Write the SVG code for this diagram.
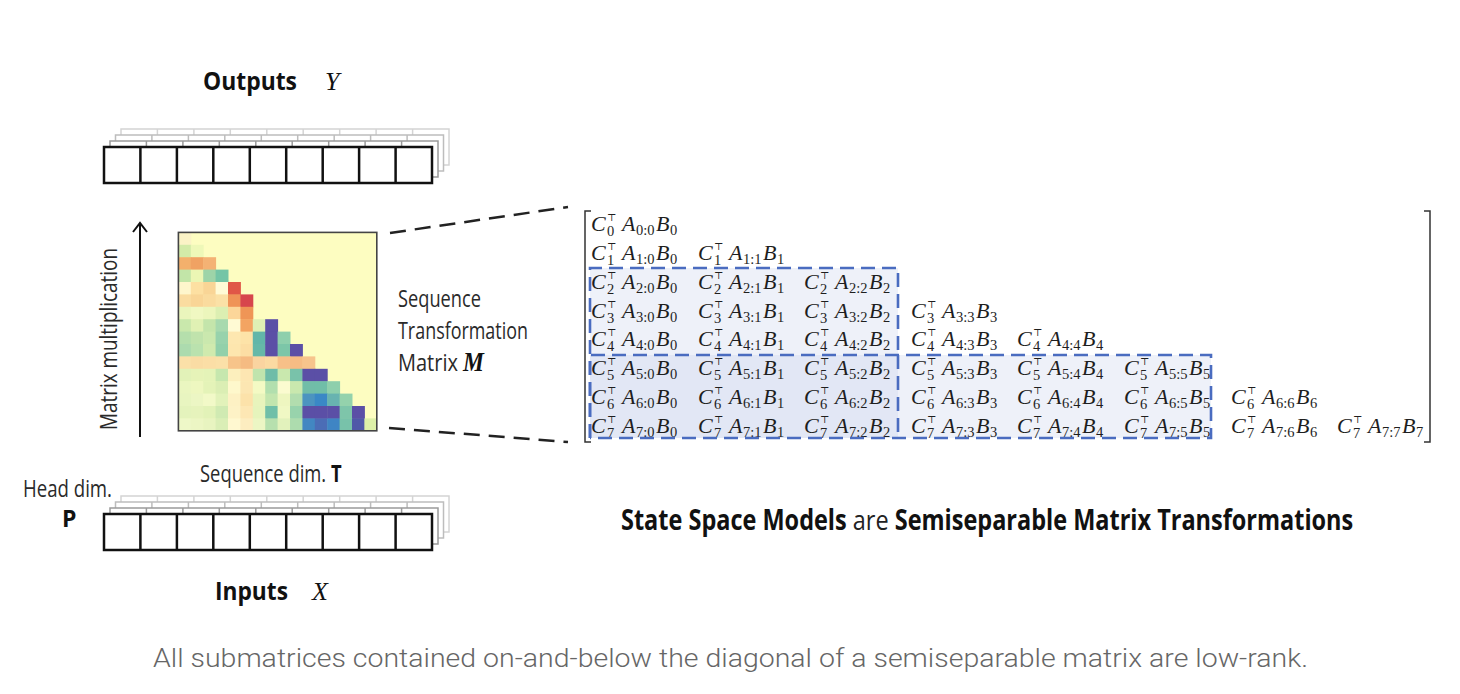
<svg xmlns="http://www.w3.org/2000/svg" xmlns:xlink="http://www.w3.org/1999/xlink" width="1460" height="694" viewBox="0 0 1460 694">
<style>
.lbl { font-family: "Open Sans", "Liberation Sans", sans-serif; font-size: 23px; fill: #2a2a2a; }
.hd { font-family: "Open Sans", "Liberation Sans", sans-serif; font-weight: 700; fill: #111; }
.bt { font-weight: 700; fill: #111; }
.var { font-family: "Liberation Serif", "DejaVu Serif", serif; font-style: italic; fill: #111; }
.m text { font-family: "Liberation Serif", "DejaVu Serif", serif; font-size: 22px; fill: #1e1e1e; }
.m .i { font-style: italic; }
.m .s { font-size: 14.5px; }
.m .t { font-family: "DejaVu Serif", "DejaVu Sans", serif; font-size: 10px; }
.cap { font-family: Roboto, "Liberation Sans", sans-serif; font-weight: 300; font-size: 25.5px; fill: #666; }
.dash { fill: none; stroke: #222; stroke-width: 2.5; stroke-dasharray: 16 9; }
.fill { fill: #c8d2ea; fill-opacity: 0.3; stroke: none; }
.bline { fill: none; stroke: #4a6cc0; stroke-width: 2.6; stroke-dasharray: 14 7; }
.br { fill: none; stroke: #333; stroke-width: 1.5; }
</style>
<defs>
<g id="row">
<rect x="0" y="0" width="328" height="36" fill="#fff"/>
<path d="M36.4 0V36M72.9 0V36M109.3 0V36M145.8 0V36M182.2 0V36M218.7 0V36M255.1 0V36M291.6 0V36" fill="none"/>
</g>
</defs>
<rect width="1460" height="694" fill="#fff"/>

<g id="outputs">
<use xlink:href="#row" transform="translate(121,129)" stroke="#d4d4d4" stroke-width="1.5"/>
<use xlink:href="#row" transform="translate(115.5,135)" stroke="#bdbdbd" stroke-width="1.5"/>
<use xlink:href="#row" transform="translate(110,141)" stroke="#9a9a9a" stroke-width="1.5"/>
<use xlink:href="#row" transform="translate(104,147)" stroke="#111" stroke-width="2.5"/>
<text class="hd" x="203" y="90" font-size="25" textLength="94" lengthAdjust="spacingAndGlyphs">Outputs</text>
<text class="var" x="325" y="90" font-size="26">Y</text>
</g>

<g id="inputs">
<use xlink:href="#row" transform="translate(121,496)" stroke="#d4d4d4" stroke-width="1.5"/>
<use xlink:href="#row" transform="translate(115.5,502)" stroke="#bdbdbd" stroke-width="1.5"/>
<use xlink:href="#row" transform="translate(110,508)" stroke="#9a9a9a" stroke-width="1.5"/>
<use xlink:href="#row" transform="translate(104,514)" stroke="#111" stroke-width="2.5"/>
<text class="hd" x="215" y="600" font-size="25" textLength="73" lengthAdjust="spacingAndGlyphs">Inputs</text>
<text class="var" x="312" y="600" font-size="26">X</text>
<text class="lbl" x="23" y="497" textLength="89" lengthAdjust="spacingAndGlyphs">Head dim.</text>
<text class="hd" x="62" y="527" font-size="23">P</text>
<text class="lbl" transform="translate(200,482) scale(0.8,1)">Sequence dim. <tspan class="bt">T</tspan></text>
</g>

<g id="heatmap">
<rect x="178.4" y="232.4" width="198.4" height="198.4" fill="#fdfdc1"/>
<g transform="translate(178.4,232.4) scale(12.4)">
<rect x="0" y="0" width="1.04" height="1.04" fill="#fbf3c6"/>
<rect x="0" y="1" width="1.04" height="1.04" fill="#d3eba8"/><rect x="1" y="1" width="1.04" height="1.04" fill="#eef8b8"/>
<rect x="0" y="2" width="1.04" height="1.04" fill="#f3b06c"/><rect x="1" y="2" width="1.04" height="1.04" fill="#f0a263"/><rect x="2" y="2" width="1.04" height="1.04" fill="#f4b274"/>
<rect x="0" y="3" width="1.04" height="1.04" fill="#c2e5a8"/><rect x="1" y="3" width="1.04" height="1.04" fill="#ebf6b4"/><rect x="2" y="3" width="1.04" height="1.04" fill="#9dd4a8"/><rect x="3" y="3" width="1.04" height="1.04" fill="#74c5a6"/>
<rect x="0" y="4" width="1.04" height="1.04" fill="#fef6cc"/><rect x="1" y="4" width="1.04" height="1.04" fill="#fde0a2"/><rect x="2" y="4" width="1.04" height="1.04" fill="#f9d596"/><rect x="3" y="4" width="1.04" height="1.04" fill="#fffbd6"/><rect x="4" y="4" width="1.04" height="1.04" fill="#e05747"/>
<rect x="0" y="5" width="1.04" height="1.04" fill="#fadca0"/><rect x="1" y="5" width="1.04" height="1.04" fill="#f9d596"/><rect x="2" y="5" width="1.04" height="1.04" fill="#fadb9e"/><rect x="3" y="5" width="1.04" height="1.04" fill="#fbe1a6"/><rect x="4" y="5" width="1.04" height="1.04" fill="#ef9357"/><rect x="5" y="5" width="1.04" height="1.04" fill="#d7464c"/>
<rect x="0" y="6" width="1.04" height="1.04" fill="#eaf5bc"/><rect x="1" y="6" width="1.04" height="1.04" fill="#f0f8c2"/><rect x="2" y="6" width="1.04" height="1.04" fill="#ecf6bc"/><rect x="3" y="6" width="1.04" height="1.04" fill="#dcefb2"/><rect x="4" y="6" width="1.04" height="1.04" fill="#fcd699"/><rect x="5" y="6" width="1.04" height="1.04" fill="#ef9556"/>
<rect x="0" y="7" width="1.04" height="1.04" fill="#c9e8ac"/><rect x="1" y="7" width="1.04" height="1.04" fill="#e0f1b4"/><rect x="2" y="7" width="1.04" height="1.04" fill="#c4e5ab"/><rect x="3" y="7" width="1.04" height="1.04" fill="#a7d9ae"/><rect x="4" y="7" width="1.04" height="1.04" fill="#fffad4"/><rect x="5" y="7" width="1.04" height="1.04" fill="#f3a462"/><rect x="6" y="7" width="1.04" height="1.04" fill="#dff0b4"/><rect x="7" y="7" width="1.04" height="1.04" fill="#5b4fa6"/>
<rect x="0" y="8" width="1.04" height="1.04" fill="#b5dfac"/><rect x="1" y="8" width="1.04" height="1.04" fill="#c0e3ac"/><rect x="2" y="8" width="1.04" height="1.04" fill="#cae8ae"/><rect x="3" y="8" width="1.04" height="1.04" fill="#97d2ac"/><rect x="4" y="8" width="1.04" height="1.04" fill="#fde7b0"/><rect x="5" y="8" width="1.04" height="1.04" fill="#fde3a8"/><rect x="6" y="8" width="1.04" height="1.04" fill="#62b6a9"/><rect x="7" y="8" width="1.04" height="1.04" fill="#5b4fa6"/><rect x="8" y="8" width="1.04" height="1.04" fill="#8ecfac"/>
<rect x="0" y="9" width="1.04" height="1.04" fill="#acdbae"/><rect x="1" y="9" width="1.04" height="1.04" fill="#bae2ae"/><rect x="2" y="9" width="1.04" height="1.04" fill="#d0eaae"/><rect x="3" y="9" width="1.04" height="1.04" fill="#92d0aa"/><rect x="4" y="9" width="1.04" height="1.04" fill="#fde6ae"/><rect x="5" y="9" width="1.04" height="1.04" fill="#fcdea4"/><rect x="6" y="9" width="1.04" height="1.04" fill="#66b8a8"/><rect x="7" y="9" width="1.04" height="1.04" fill="#5b4fa6"/><rect x="8" y="9" width="1.04" height="1.04" fill="#7cc6a8"/><rect x="9" y="9" width="1.04" height="1.04" fill="#5b4fa6"/>
<rect x="0" y="10" width="1.04" height="1.04" fill="#fbe0a8"/><rect x="1" y="10" width="1.04" height="1.04" fill="#fadca4"/><rect x="2" y="10" width="1.04" height="1.04" fill="#fbdea6"/><rect x="3" y="10" width="1.04" height="1.04" fill="#fbe0a8"/><rect x="4" y="10" width="1.04" height="1.04" fill="#f7c48a"/><rect x="5" y="10" width="1.04" height="1.04" fill="#f5bb82"/><rect x="6" y="10" width="1.04" height="1.04" fill="#fad4a0"/><rect x="7" y="10" width="1.04" height="1.04" fill="#fbdaa2"/><rect x="8" y="10" width="1.04" height="1.04" fill="#f7c088"/><rect x="9" y="10" width="1.04" height="1.04" fill="#f6bc84"/><rect x="10" y="10" width="1.04" height="1.04" fill="#f7c48c"/>
<rect x="0" y="11" width="1.04" height="1.04" fill="#e2f2b8"/><rect x="1" y="11" width="1.04" height="1.04" fill="#e6f3b8"/><rect x="2" y="11" width="1.04" height="1.04" fill="#e4f3b8"/><rect x="3" y="11" width="1.04" height="1.04" fill="#c6e7ae"/><rect x="4" y="11" width="1.04" height="1.04" fill="#fcefbd"/><rect x="5" y="11" width="1.04" height="1.04" fill="#fde6b2"/><rect x="6" y="11" width="1.04" height="1.04" fill="#c0e4ad"/><rect x="7" y="11" width="1.04" height="1.04" fill="#6fbca8"/><rect x="8" y="11" width="1.04" height="1.04" fill="#c9e8ae"/><rect x="9" y="11" width="1.04" height="1.04" fill="#79c2aa"/><rect x="10" y="11" width="1.04" height="1.04" fill="#5b4fa6"/><rect x="11" y="11" width="1.04" height="1.04" fill="#5b4fa6"/>
<rect x="0" y="12" width="1.04" height="1.04" fill="#eaf6c0"/><rect x="1" y="12" width="1.04" height="1.04" fill="#eef7c0"/><rect x="2" y="12" width="1.04" height="1.04" fill="#e4f3b8"/><rect x="3" y="12" width="1.04" height="1.04" fill="#dbeeb4"/><rect x="4" y="12" width="1.04" height="1.04" fill="#fef8cc"/><rect x="5" y="12" width="1.04" height="1.04" fill="#fce6b2"/><rect x="6" y="12" width="1.04" height="1.04" fill="#f4fac4"/><rect x="7" y="12" width="1.04" height="1.04" fill="#b2dfae"/><rect x="8" y="12" width="1.04" height="1.04" fill="#fbfbd0"/><rect x="9" y="12" width="1.04" height="1.04" fill="#c9e8ae"/><rect x="10" y="12" width="1.04" height="1.04" fill="#71bda8"/><rect x="11" y="12" width="1.04" height="1.04" fill="#70bea8"/><rect x="12" y="12" width="1.04" height="1.04" fill="#8ecfac"/>
<rect x="0" y="13" width="1.04" height="1.04" fill="#e8f5c0"/><rect x="1" y="13" width="1.04" height="1.04" fill="#ecf6c4"/><rect x="2" y="13" width="1.04" height="1.04" fill="#f2f9c8"/><rect x="3" y="13" width="1.04" height="1.04" fill="#e2f2ba"/><rect x="4" y="13" width="1.04" height="1.04" fill="#fdf1c4"/><rect x="5" y="13" width="1.04" height="1.04" fill="#fce2aa"/><rect x="6" y="13" width="1.04" height="1.04" fill="#e8f4bc"/><rect x="7" y="13" width="1.04" height="1.04" fill="#c2e5ae"/><rect x="8" y="13" width="1.04" height="1.04" fill="#eef6c0"/><rect x="9" y="13" width="1.04" height="1.04" fill="#b2ddae"/><rect x="10" y="13" width="1.04" height="1.04" fill="#4c94c0"/><rect x="11" y="13" width="1.04" height="1.04" fill="#3a88c6"/><rect x="12" y="13" width="1.04" height="1.04" fill="#68b3b0"/><rect x="13" y="13" width="1.04" height="1.04" fill="#94d2ac"/>
<rect x="0" y="14" width="1.04" height="1.04" fill="#e4f3bc"/><rect x="1" y="14" width="1.04" height="1.04" fill="#e6f3bc"/><rect x="2" y="14" width="1.04" height="1.04" fill="#e2f2b8"/><rect x="3" y="14" width="1.04" height="1.04" fill="#d0eab2"/><rect x="4" y="14" width="1.04" height="1.04" fill="#fdf2c6"/><rect x="5" y="14" width="1.04" height="1.04" fill="#fde7b4"/><rect x="6" y="14" width="1.04" height="1.04" fill="#e6f4bc"/><rect x="7" y="14" width="1.04" height="1.04" fill="#70bfa8"/><rect x="8" y="14" width="1.04" height="1.04" fill="#f0f8c4"/><rect x="9" y="14" width="1.04" height="1.04" fill="#98d3ac"/><rect x="10" y="14" width="1.04" height="1.04" fill="#5b4fa6"/><rect x="11" y="14" width="1.04" height="1.04" fill="#5b4fa6"/><rect x="12" y="14" width="1.04" height="1.04" fill="#5b4fa6"/><rect x="13" y="14" width="1.04" height="1.04" fill="#7ec5aa"/><rect x="14" y="14" width="1.04" height="1.04" fill="#5b4fa6"/>
<rect x="0" y="15" width="1.04" height="1" fill="#eef8c8"/><rect x="1" y="15" width="1.04" height="1" fill="#ecf6c4"/><rect x="2" y="15" width="1.04" height="1" fill="#e8f4c0"/><rect x="3" y="15" width="1.04" height="1" fill="#daeeb6"/><rect x="4" y="15" width="1.04" height="1" fill="#fff8d0"/><rect x="5" y="15" width="1.04" height="1" fill="#fdedc0"/><rect x="6" y="15" width="1.04" height="1" fill="#ecf6c4"/><rect x="7" y="15" width="1.04" height="1" fill="#b7e0ae"/><rect x="8" y="15" width="1.04" height="1" fill="#e2f2bc"/><rect x="9" y="15" width="1.04" height="1" fill="#addcae"/><rect x="10" y="15" width="1.04" height="1" fill="#4287c2"/><rect x="11" y="15" width="1.04" height="1" fill="#4b6db6"/><rect x="12" y="15" width="1.04" height="1" fill="#3f85c4"/><rect x="13" y="15" width="1.04" height="1" fill="#78c2aa"/><rect x="14" y="15" width="1.04" height="1" fill="#5058a8"/><rect x="15" y="15" width="1" height="1" fill="#ddf0a8"/>
</g>
<rect x="178.4" y="232.4" width="198.4" height="198.4" fill="none" stroke="#444" stroke-width="1.6"/>
</g>

<g id="labels">
<text class="lbl" transform="translate(117,339) rotate(-90)" text-anchor="middle" textLength="182" lengthAdjust="spacingAndGlyphs">Matrix multiplication</text>
<text class="lbl" x="398" y="307" textLength="83" lengthAdjust="spacingAndGlyphs">Sequence</text>
<text class="lbl" x="398" y="339" textLength="130" lengthAdjust="spacingAndGlyphs">Transformation</text>
<text class="lbl" transform="translate(398,371) scale(0.87,1)">Matrix <tspan class="var" font-size="27" font-weight="700">M</tspan></text>
</g>

<g id="connectors">
<path class="dash" d="M390 233L568 207"/>
<path class="dash" d="M389 428L568 442"/>
<path d="M140 437V224" fill="none" stroke="#111" stroke-width="2"/>
<path d="M133 232L140 223L147 232" fill="none" stroke="#111" stroke-width="2"/>
</g>

<g id="matrix" class="m">
<rect class="fill" x="590" y="268" width="308" height="170"/>
<rect class="fill" x="590" y="355" width="621" height="83"/>
<path class="br" d="M591 211H585V442H591"/>
<path class="br" d="M1424 211H1430V442H1424"/>
<text transform="translate(591,231)"><tspan class="i" x="0" y="0">C</tspan><tspan class="t" x="16" y="-10.5">⊤</tspan><tspan class="s" x="16" y="5">0</tspan><tspan class="i" x="31" y="0">A</tspan><tspan class="s" x="45" y="4">0:0</tspan><tspan class="i" x="65" y="0">B</tspan><tspan class="s" x="79" y="4">0</tspan></text>
<text transform="translate(591,260)"><tspan class="i" x="0" y="0">C</tspan><tspan class="t" x="16" y="-10.5">⊤</tspan><tspan class="s" x="16" y="5">1</tspan><tspan class="i" x="31" y="0">A</tspan><tspan class="s" x="45" y="4">1:0</tspan><tspan class="i" x="65" y="0">B</tspan><tspan class="s" x="79" y="4">0</tspan></text>
<text transform="translate(698,260)"><tspan class="i" x="0" y="0">C</tspan><tspan class="t" x="16" y="-10.5">⊤</tspan><tspan class="s" x="16" y="5">1</tspan><tspan class="i" x="31" y="0">A</tspan><tspan class="s" x="45" y="4">1:1</tspan><tspan class="i" x="65" y="0">B</tspan><tspan class="s" x="79" y="4">1</tspan></text>
<text transform="translate(591,289)"><tspan class="i" x="0" y="0">C</tspan><tspan class="t" x="16" y="-10.5">⊤</tspan><tspan class="s" x="16" y="5">2</tspan><tspan class="i" x="31" y="0">A</tspan><tspan class="s" x="45" y="4">2:0</tspan><tspan class="i" x="65" y="0">B</tspan><tspan class="s" x="79" y="4">0</tspan></text>
<text transform="translate(698,289)"><tspan class="i" x="0" y="0">C</tspan><tspan class="t" x="16" y="-10.5">⊤</tspan><tspan class="s" x="16" y="5">2</tspan><tspan class="i" x="31" y="0">A</tspan><tspan class="s" x="45" y="4">2:1</tspan><tspan class="i" x="65" y="0">B</tspan><tspan class="s" x="79" y="4">1</tspan></text>
<text transform="translate(804,289)"><tspan class="i" x="0" y="0">C</tspan><tspan class="t" x="16" y="-10.5">⊤</tspan><tspan class="s" x="16" y="5">2</tspan><tspan class="i" x="31" y="0">A</tspan><tspan class="s" x="45" y="4">2:2</tspan><tspan class="i" x="65" y="0">B</tspan><tspan class="s" x="79" y="4">2</tspan></text>
<text transform="translate(591,318)"><tspan class="i" x="0" y="0">C</tspan><tspan class="t" x="16" y="-10.5">⊤</tspan><tspan class="s" x="16" y="5">3</tspan><tspan class="i" x="31" y="0">A</tspan><tspan class="s" x="45" y="4">3:0</tspan><tspan class="i" x="65" y="0">B</tspan><tspan class="s" x="79" y="4">0</tspan></text>
<text transform="translate(698,318)"><tspan class="i" x="0" y="0">C</tspan><tspan class="t" x="16" y="-10.5">⊤</tspan><tspan class="s" x="16" y="5">3</tspan><tspan class="i" x="31" y="0">A</tspan><tspan class="s" x="45" y="4">3:1</tspan><tspan class="i" x="65" y="0">B</tspan><tspan class="s" x="79" y="4">1</tspan></text>
<text transform="translate(804,318)"><tspan class="i" x="0" y="0">C</tspan><tspan class="t" x="16" y="-10.5">⊤</tspan><tspan class="s" x="16" y="5">3</tspan><tspan class="i" x="31" y="0">A</tspan><tspan class="s" x="45" y="4">3:2</tspan><tspan class="i" x="65" y="0">B</tspan><tspan class="s" x="79" y="4">2</tspan></text>
<text transform="translate(911,318)"><tspan class="i" x="0" y="0">C</tspan><tspan class="t" x="16" y="-10.5">⊤</tspan><tspan class="s" x="16" y="5">3</tspan><tspan class="i" x="31" y="0">A</tspan><tspan class="s" x="45" y="4">3:3</tspan><tspan class="i" x="65" y="0">B</tspan><tspan class="s" x="79" y="4">3</tspan></text>
<text transform="translate(591,346)"><tspan class="i" x="0" y="0">C</tspan><tspan class="t" x="16" y="-10.5">⊤</tspan><tspan class="s" x="16" y="5">4</tspan><tspan class="i" x="31" y="0">A</tspan><tspan class="s" x="45" y="4">4:0</tspan><tspan class="i" x="65" y="0">B</tspan><tspan class="s" x="79" y="4">0</tspan></text>
<text transform="translate(698,346)"><tspan class="i" x="0" y="0">C</tspan><tspan class="t" x="16" y="-10.5">⊤</tspan><tspan class="s" x="16" y="5">4</tspan><tspan class="i" x="31" y="0">A</tspan><tspan class="s" x="45" y="4">4:1</tspan><tspan class="i" x="65" y="0">B</tspan><tspan class="s" x="79" y="4">1</tspan></text>
<text transform="translate(804,346)"><tspan class="i" x="0" y="0">C</tspan><tspan class="t" x="16" y="-10.5">⊤</tspan><tspan class="s" x="16" y="5">4</tspan><tspan class="i" x="31" y="0">A</tspan><tspan class="s" x="45" y="4">4:2</tspan><tspan class="i" x="65" y="0">B</tspan><tspan class="s" x="79" y="4">2</tspan></text>
<text transform="translate(911,346)"><tspan class="i" x="0" y="0">C</tspan><tspan class="t" x="16" y="-10.5">⊤</tspan><tspan class="s" x="16" y="5">4</tspan><tspan class="i" x="31" y="0">A</tspan><tspan class="s" x="45" y="4">4:3</tspan><tspan class="i" x="65" y="0">B</tspan><tspan class="s" x="79" y="4">3</tspan></text>
<text transform="translate(1017,346)"><tspan class="i" x="0" y="0">C</tspan><tspan class="t" x="16" y="-10.5">⊤</tspan><tspan class="s" x="16" y="5">4</tspan><tspan class="i" x="31" y="0">A</tspan><tspan class="s" x="45" y="4">4:4</tspan><tspan class="i" x="65" y="0">B</tspan><tspan class="s" x="79" y="4">4</tspan></text>
<text transform="translate(591,375)"><tspan class="i" x="0" y="0">C</tspan><tspan class="t" x="16" y="-10.5">⊤</tspan><tspan class="s" x="16" y="5">5</tspan><tspan class="i" x="31" y="0">A</tspan><tspan class="s" x="45" y="4">5:0</tspan><tspan class="i" x="65" y="0">B</tspan><tspan class="s" x="79" y="4">0</tspan></text>
<text transform="translate(698,375)"><tspan class="i" x="0" y="0">C</tspan><tspan class="t" x="16" y="-10.5">⊤</tspan><tspan class="s" x="16" y="5">5</tspan><tspan class="i" x="31" y="0">A</tspan><tspan class="s" x="45" y="4">5:1</tspan><tspan class="i" x="65" y="0">B</tspan><tspan class="s" x="79" y="4">1</tspan></text>
<text transform="translate(804,375)"><tspan class="i" x="0" y="0">C</tspan><tspan class="t" x="16" y="-10.5">⊤</tspan><tspan class="s" x="16" y="5">5</tspan><tspan class="i" x="31" y="0">A</tspan><tspan class="s" x="45" y="4">5:2</tspan><tspan class="i" x="65" y="0">B</tspan><tspan class="s" x="79" y="4">2</tspan></text>
<text transform="translate(911,375)"><tspan class="i" x="0" y="0">C</tspan><tspan class="t" x="16" y="-10.5">⊤</tspan><tspan class="s" x="16" y="5">5</tspan><tspan class="i" x="31" y="0">A</tspan><tspan class="s" x="45" y="4">5:3</tspan><tspan class="i" x="65" y="0">B</tspan><tspan class="s" x="79" y="4">3</tspan></text>
<text transform="translate(1017,375)"><tspan class="i" x="0" y="0">C</tspan><tspan class="t" x="16" y="-10.5">⊤</tspan><tspan class="s" x="16" y="5">5</tspan><tspan class="i" x="31" y="0">A</tspan><tspan class="s" x="45" y="4">5:4</tspan><tspan class="i" x="65" y="0">B</tspan><tspan class="s" x="79" y="4">4</tspan></text>
<text transform="translate(1124,375)"><tspan class="i" x="0" y="0">C</tspan><tspan class="t" x="16" y="-10.5">⊤</tspan><tspan class="s" x="16" y="5">5</tspan><tspan class="i" x="31" y="0">A</tspan><tspan class="s" x="45" y="4">5:5</tspan><tspan class="i" x="65" y="0">B</tspan><tspan class="s" x="79" y="4">5</tspan></text>
<text transform="translate(591,404)"><tspan class="i" x="0" y="0">C</tspan><tspan class="t" x="16" y="-10.5">⊤</tspan><tspan class="s" x="16" y="5">6</tspan><tspan class="i" x="31" y="0">A</tspan><tspan class="s" x="45" y="4">6:0</tspan><tspan class="i" x="65" y="0">B</tspan><tspan class="s" x="79" y="4">0</tspan></text>
<text transform="translate(698,404)"><tspan class="i" x="0" y="0">C</tspan><tspan class="t" x="16" y="-10.5">⊤</tspan><tspan class="s" x="16" y="5">6</tspan><tspan class="i" x="31" y="0">A</tspan><tspan class="s" x="45" y="4">6:1</tspan><tspan class="i" x="65" y="0">B</tspan><tspan class="s" x="79" y="4">1</tspan></text>
<text transform="translate(804,404)"><tspan class="i" x="0" y="0">C</tspan><tspan class="t" x="16" y="-10.5">⊤</tspan><tspan class="s" x="16" y="5">6</tspan><tspan class="i" x="31" y="0">A</tspan><tspan class="s" x="45" y="4">6:2</tspan><tspan class="i" x="65" y="0">B</tspan><tspan class="s" x="79" y="4">2</tspan></text>
<text transform="translate(911,404)"><tspan class="i" x="0" y="0">C</tspan><tspan class="t" x="16" y="-10.5">⊤</tspan><tspan class="s" x="16" y="5">6</tspan><tspan class="i" x="31" y="0">A</tspan><tspan class="s" x="45" y="4">6:3</tspan><tspan class="i" x="65" y="0">B</tspan><tspan class="s" x="79" y="4">3</tspan></text>
<text transform="translate(1017,404)"><tspan class="i" x="0" y="0">C</tspan><tspan class="t" x="16" y="-10.5">⊤</tspan><tspan class="s" x="16" y="5">6</tspan><tspan class="i" x="31" y="0">A</tspan><tspan class="s" x="45" y="4">6:4</tspan><tspan class="i" x="65" y="0">B</tspan><tspan class="s" x="79" y="4">4</tspan></text>
<text transform="translate(1124,404)"><tspan class="i" x="0" y="0">C</tspan><tspan class="t" x="16" y="-10.5">⊤</tspan><tspan class="s" x="16" y="5">6</tspan><tspan class="i" x="31" y="0">A</tspan><tspan class="s" x="45" y="4">6:5</tspan><tspan class="i" x="65" y="0">B</tspan><tspan class="s" x="79" y="4">5</tspan></text>
<text transform="translate(1231,404)"><tspan class="i" x="0" y="0">C</tspan><tspan class="t" x="16" y="-10.5">⊤</tspan><tspan class="s" x="16" y="5">6</tspan><tspan class="i" x="31" y="0">A</tspan><tspan class="s" x="45" y="4">6:6</tspan><tspan class="i" x="65" y="0">B</tspan><tspan class="s" x="79" y="4">6</tspan></text>
<text transform="translate(591,433)"><tspan class="i" x="0" y="0">C</tspan><tspan class="t" x="16" y="-10.5">⊤</tspan><tspan class="s" x="16" y="5">7</tspan><tspan class="i" x="31" y="0">A</tspan><tspan class="s" x="45" y="4">7:0</tspan><tspan class="i" x="65" y="0">B</tspan><tspan class="s" x="79" y="4">0</tspan></text>
<text transform="translate(698,433)"><tspan class="i" x="0" y="0">C</tspan><tspan class="t" x="16" y="-10.5">⊤</tspan><tspan class="s" x="16" y="5">7</tspan><tspan class="i" x="31" y="0">A</tspan><tspan class="s" x="45" y="4">7:1</tspan><tspan class="i" x="65" y="0">B</tspan><tspan class="s" x="79" y="4">1</tspan></text>
<text transform="translate(804,433)"><tspan class="i" x="0" y="0">C</tspan><tspan class="t" x="16" y="-10.5">⊤</tspan><tspan class="s" x="16" y="5">7</tspan><tspan class="i" x="31" y="0">A</tspan><tspan class="s" x="45" y="4">7:2</tspan><tspan class="i" x="65" y="0">B</tspan><tspan class="s" x="79" y="4">2</tspan></text>
<text transform="translate(911,433)"><tspan class="i" x="0" y="0">C</tspan><tspan class="t" x="16" y="-10.5">⊤</tspan><tspan class="s" x="16" y="5">7</tspan><tspan class="i" x="31" y="0">A</tspan><tspan class="s" x="45" y="4">7:3</tspan><tspan class="i" x="65" y="0">B</tspan><tspan class="s" x="79" y="4">3</tspan></text>
<text transform="translate(1017,433)"><tspan class="i" x="0" y="0">C</tspan><tspan class="t" x="16" y="-10.5">⊤</tspan><tspan class="s" x="16" y="5">7</tspan><tspan class="i" x="31" y="0">A</tspan><tspan class="s" x="45" y="4">7:4</tspan><tspan class="i" x="65" y="0">B</tspan><tspan class="s" x="79" y="4">4</tspan></text>
<text transform="translate(1124,433)"><tspan class="i" x="0" y="0">C</tspan><tspan class="t" x="16" y="-10.5">⊤</tspan><tspan class="s" x="16" y="5">7</tspan><tspan class="i" x="31" y="0">A</tspan><tspan class="s" x="45" y="4">7:5</tspan><tspan class="i" x="65" y="0">B</tspan><tspan class="s" x="79" y="4">5</tspan></text>
<text transform="translate(1231,433)"><tspan class="i" x="0" y="0">C</tspan><tspan class="t" x="16" y="-10.5">⊤</tspan><tspan class="s" x="16" y="5">7</tspan><tspan class="i" x="31" y="0">A</tspan><tspan class="s" x="45" y="4">7:6</tspan><tspan class="i" x="65" y="0">B</tspan><tspan class="s" x="79" y="4">6</tspan></text>
<text transform="translate(1337,433)"><tspan class="i" x="0" y="0">C</tspan><tspan class="t" x="16" y="-10.5">⊤</tspan><tspan class="s" x="16" y="5">7</tspan><tspan class="i" x="31" y="0">A</tspan><tspan class="s" x="45" y="4">7:7</tspan><tspan class="i" x="65" y="0">B</tspan><tspan class="s" x="79" y="4">7</tspan></text>
<path class="bline" d="M590 438V268H898V355"/>
<path class="bline" d="M898 355V438" stroke="#9cb0dc"/>
<path class="bline" d="M590 438V355H1211V438H590"/>
</g>

<g id="title">
<text class="hd" transform="translate(621,530) scale(0.839,1)" font-size="28">State Space Models <tspan font-weight="400" fill="#222">are</tspan> Semiseparable Matrix Transformations</text>
</g>

<text class="cap" x="153" y="667" textLength="1155" lengthAdjust="spacingAndGlyphs">All submatrices contained on-and-below the diagonal of a semiseparable matrix are low-rank.</text>
</svg>
